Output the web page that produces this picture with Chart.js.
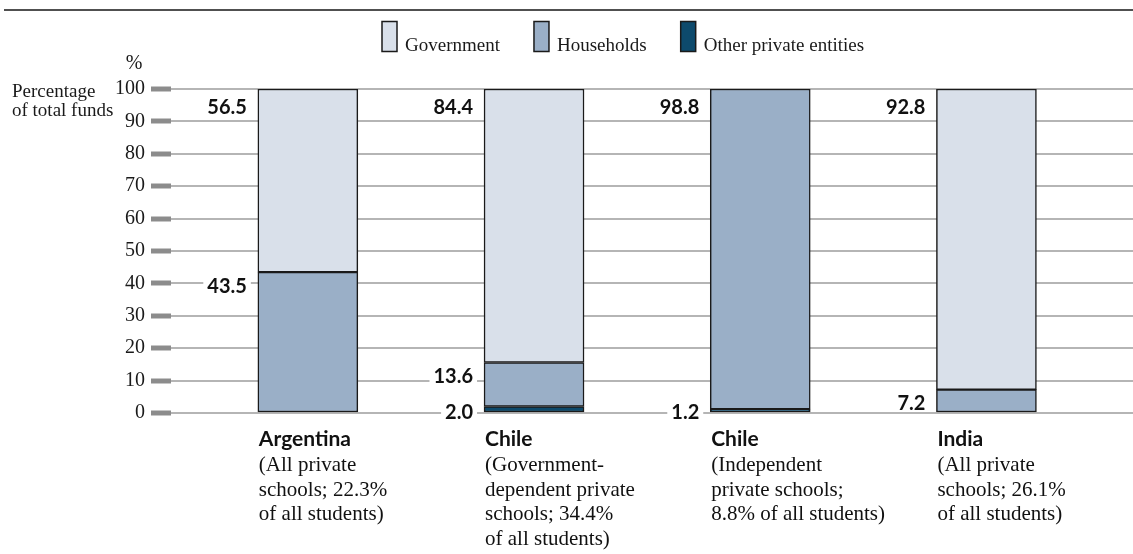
<!DOCTYPE html>
<html>
<head>
<meta charset="utf-8">
<script src="https://cdn.jsdelivr.net/npm/chart.js@4/dist/chart.umd.min.js"></script>
<style>
  html, body { margin: 0; padding: 0; background: #fff; }
  #wrap { position: relative; width: 1133px; height: 554px; }
</style>
</head>
<body>
<div id="wrap"><canvas id="fundsChart"></canvas></div>
<script>
// --- data ---
const countries = ['Argentina', 'Chile', 'Chile', 'India'];
const notes = [
    ['(All private', 'schools; 22.3%', 'of all students)'],
    ['(Government-', 'dependent private', 'schools; 34.4%', 'of all students)'],
    ['(Independent', 'private schools;', '8.8% of all students)'],
    ['(All private', 'schools; 26.1%', 'of all students)']
];
const seriesNames = ['Other private entities', 'Households', 'Government'];
const otherPrivate = [0, 2.0, 1.2, 0];
const households = [43.5, 13.6, 98.8, 7.2];
const government = [56.5, 84.4, 0, 92.8];
const yMax = 100;
const yStep = 10;

const colors = ['#0d4a6c', '#9aafc7', '#d9e0ea'];
const serif = "'Liberation Serif', 'DejaVu Serif', serif";
const sans = "Lato, 'Open Sans', sans-serif";

// 1. linha de topo, legenda e título do eixo
const frame = {
    id: 'frame',
    afterDraw(chart) {
        const ctx = chart.ctx;
        ctx.save();
        ctx.strokeStyle = '#505050';
        ctx.lineWidth = 2;
        ctx.beginPath();
        ctx.moveTo(4, 10);
        ctx.lineTo(chart.width, 10);
        ctx.stroke();

        // legend (top to bottom of the stack)
        ctx.font = `19px ${serif}`;
        ctx.textAlign = 'left';
        ctx.textBaseline = 'alphabetic';
        let x = 382;
        for (let d = chart.data.datasets.length - 1; d >= 0; d--) {
            const ds = chart.data.datasets[d];
            ctx.fillStyle = ds.backgroundColor;
            ctx.fillRect(x, 21.5, 15, 30);
            ctx.strokeStyle = '#1a1a1a';
            ctx.lineWidth = 1.5;
            ctx.strokeRect(x, 21.5, 15, 30);
            ctx.fillStyle = '#1a1a1a';
            ctx.fillText(ds.label, x + 23, 51);
            x += 23 + ctx.measureText(ds.label).width + 34;
        }

        // y title
        ctx.font = `20px ${serif}`;
        ctx.textAlign = 'center';
        ctx.fillText('%', 134, 69);
        ctx.font = `19px ${serif}`;
        ctx.textAlign = 'left';
        ctx.fillText('Percentage', 12, 97);
        ctx.fillText('of total funds', 12, 116);
        ctx.restore();
    }
};

// 2. valores ao lado de cada segmento
const valueLabels = {
    id: 'valueLabels',
    afterDatasetsDraw(chart) {
        const ctx = chart.ctx;
        const yScale = chart.scales.y;
        const sets = chart.data.datasets;
        ctx.save();
        ctx.font = `bold 20px ${sans}`;
        ctx.textAlign = 'right';
        ctx.textBaseline = 'middle';
        sets.forEach((ds, d) => {
            chart.getDatasetMeta(d).data.forEach((bar, i) => {
                const v = ds.data[i].y;
                if (!v) return;
                const isTop = sets.slice(d + 1).every(o => !o.data[i].y);
                const cy = Math.min(bar.y + (isTop ? 18 : 13), yScale.bottom - 1);
                const right = bar.x - bar.width / 2 - 11;
                const txt = v.toFixed(1);
                const w = ctx.measureText(txt).width;
                ctx.fillStyle = '#fff';
                ctx.fillRect(right - w - 4, cy - 8, w + 8, 16);
                ctx.fillStyle = '#111';
                ctx.fillText(txt, right, cy + 1);
            });
        });
        ctx.restore();
    }
};

// 3. nomes das categorias embaixo das barras
const categoryLabels = {
    id: 'categoryLabels',
    afterDraw(chart) {
        const ctx = chart.ctx;
        ctx.save();
        ctx.textAlign = 'left';
        ctx.textBaseline = 'alphabetic';
        ctx.fillStyle = '#111';
        chart.getDatasetMeta(0).data.forEach((bar, i) => {
            const left = bar.x - bar.width / 2 + 1;
            ctx.font = `bold 21px ${sans}`;
            ctx.fillText(countries[i], left, 446);
            ctx.font = `21px ${serif}`;
            notes[i].forEach((line, k) => ctx.fillText(line, left, 471 + k * 24.5));
        });
        ctx.restore();
    }
};

const series = [otherPrivate, households, government];

new Chart(document.getElementById('fundsChart'), {
    type: 'bar',
    data: {
        datasets: series.map((vals, d) => ({
            label: seriesNames[d],
            data: vals.map((v, i) => ({ x: i, y: v })),
            backgroundColor: colors[d],
            borderColor: '#1a1a1a',
            borderWidth: 1.5,
            borderSkipped: false,
            barThickness: 100
        }))
    },
    options: {
        responsive: true,
        maintainAspectRatio: false,
        animation: false,
        layout: { padding: { top: 89, bottom: 141, left: 0, right: 0 } },
        plugins: { legend: { display: false }, tooltip: { enabled: false } },
        scales: {
            x: {
                type: 'linear',
                stacked: true,
                display: false,
                offset: false,
                min: -0.605,
                max: 3.648
            },
            y: {
                stacked: true,
                min: 0,
                max: yMax,
                afterFit: s => { s.width = 171; },
                border: { display: false },
                grid: {
                    color: '#b5b5b5',
                    lineWidth: 2,
                    tickLength: 20,
                    tickWidth: 5,
                    tickColor: '#8c8c8c'
                },
                ticks: {
                    stepSize: yStep,
                    padding: 6,
                    color: '#1a1a1a',
                    font: { family: serif, size: 20 }
                }
            }
        }
    },
    plugins: [frame, valueLabels, categoryLabels]
});
</script>
</body>
</html>
